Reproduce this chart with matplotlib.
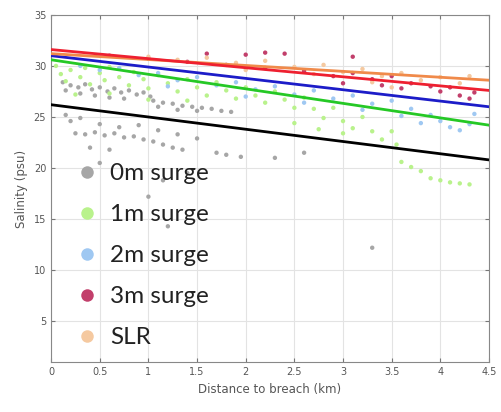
import numpy as np
import matplotlib.pyplot as plt
from matplotlib.lines import Line2D

# scatter clouds (distance km, salinity psu)
x0 = [0.12,0.2,0.28,0.35,0.42,0.5,0.58,0.65,0.72,0.8,0.88,0.95,1.02,0.15,0.3,0.45,0.6,0.75,
      1.05,1.15,1.25,1.35,1.45,1.55,1.65,1.75,1.85,1.1,1.3,1.5,
      0.15,0.2,0.3,0.25,0.35,0.45,0.55,0.65,0.75,0.85,0.95,1.05,1.15,1.25,1.35,0.5,0.7,0.9,1.1,1.3,1.5,1.7,1.8,1.95,0.4,0.6,
      1.0,1.15,1.2,2.3,2.6,3.3,0.5,1.4]
y0 = [28.4,28.1,27.9,28.2,27.7,27.9,27.5,27.8,27.4,27.6,27.2,27.4,27.0,27.6,27.3,27.1,26.9,26.8,
      26.6,26.4,26.3,26.1,26.0,25.9,25.8,25.6,25.5,26.0,25.7,25.6,
      25.2,24.6,24.9,23.4,23.3,23.5,23.2,23.4,23.0,23.1,22.8,22.6,22.3,22.0,21.8,24.3,24.0,24.2,23.7,23.3,22.9,21.5,21.3,21.1,22.0,21.8,
      17.2,18.8,14.3,21.0,21.5,12.2,20.5,19.5]

x1 = [0.05,0.1,0.15,0.2,0.3,0.35,0.4,0.5,0.55,0.6,0.7,0.8,0.85,0.95,1.0,1.1,1.2,1.3,1.4,1.5,1.6,1.7,1.8,1.9,
      2.0,2.1,2.2,2.3,2.4,2.5,2.6,2.7,2.8,2.9,3.0,3.1,3.2,3.3,3.4,3.5,3.55,3.6,3.7,3.8,3.9,4.0,4.1,4.2,4.3,
      0.25,0.6,1.0,1.4,2.5,3.0,2.75]
y1 = [30.0,29.2,28.5,29.6,28.9,29.8,28.2,29.3,28.6,29.9,28.9,28.1,29.4,28.7,27.8,29.1,28.3,27.5,28.7,27.9,27.1,28.4,27.6,26.8,
      27.9,27.1,26.4,27.5,26.7,25.9,26.9,25.8,24.9,25.9,24.6,23.9,25.0,23.6,22.8,23.6,22.3,20.6,20.1,19.7,19.0,18.8,18.6,18.5,18.4,
      27.2,27.3,26.7,26.6,24.4,23.4,23.8]

x2 = [0.3,0.5,0.7,0.9,1.1,1.3,1.5,1.7,1.9,2.1,2.3,2.5,2.7,2.9,3.1,3.3,3.5,3.7,3.9,4.0,4.1,4.2,4.3,3.6,3.8,
      2.0,2.6,3.2,1.2,4.35]
y2 = [30.0,29.6,29.8,29.1,29.3,28.6,28.9,28.1,28.4,27.7,28.0,27.2,27.6,26.8,27.1,26.3,26.6,25.8,25.2,24.6,24.0,23.7,24.3,25.1,24.4,
      27.0,26.4,25.7,28.0,25.3]

x3 = [0.6,1.0,1.4,1.8,2.2,2.6,2.9,3.1,3.3,3.5,3.7,3.9,4.0,4.1,4.2,4.3,4.35,3.6,2.0,2.2,2.4,3.1,1.6,3.0,3.4]
y3 = [31.0,30.7,30.4,30.1,29.8,29.5,29.0,29.3,28.7,29.0,28.3,28.0,27.5,27.9,27.1,26.8,27.4,27.8,31.1,31.3,31.2,30.9,31.2,28.3,28.1]

xs = [1.0,1.3,1.6,1.9,2.2,2.5,2.8,3.0,3.2,3.4,3.6,3.8,4.0,4.2,3.3,3.5,2.7,4.3,2.0]
ys = [30.9,30.6,30.8,30.3,30.5,29.9,30.1,29.4,29.7,29.0,29.3,28.6,28.9,28.3,28.4,27.9,29.2,29.0,29.6]

# fitted lines: salinity at 0 km and 4.5 km
line_x = [0, 4.5]
fit0 = [26.2, 20.8]
fit1 = [30.6, 24.2]
fit2 = [31.0, 26.0]
fit3 = [31.6, 27.6]
fits = [31.2, 28.6]

labels = ['0m surge', '1m surge', '2m surge', '3m surge', 'SLR']
pt_colors = ['#a6a6a6', '#b9f28c', '#9fc8f2', '#c23f6b', '#f5c9a0']
ln_colors = ['black', '#25c825', '#1c1cc8', '#ee2030', '#f08a4a']

fig = plt.figure(figsize=(5.01, 4.12), dpi=100)
ax = fig.add_axes([0.102, 0.121, 0.874, 0.843])

for xx, yy, c in zip([x0, x1, x2, x3, xs], [y0, y1, y2, y3, ys], pt_colors):
    ax.scatter(xx, yy, s=10, color=c, edgecolors='none', zorder=2)

for yy, c in zip([fit0, fit1, fit2, fits, fit3], [ln_colors[0], ln_colors[1], ln_colors[2], ln_colors[4], ln_colors[3]]):
    ax.plot(line_x, yy, color=c, lw=2, zorder=3)

ax.set_xlim(0, 4.5)
ax.set_ylim(1, 35)
ax.set_xticks(np.arange(0, 4.51, 0.5))
ax.set_xticklabels(['0', '0.5', '1', '1.5', '2', '2.5', '3', '3.5', '4', '4.5'])
ax.set_yticks([5, 10, 15, 20, 25, 30, 35])
ax.grid(True, color='#e3e3e3', lw=0.8, zorder=0)
ax.set_axisbelow(True)
ax.tick_params(direction='in', length=3, colors='#777777', labelsize=7, labelcolor='#555555',
               top=True, right=True)
for sp in ax.spines.values():
    sp.set_color('#888888')
ax.set_xlabel('Distance to breach (km)', fontsize=8.5, color='#555555')
ax.set_ylabel('Salinity (psu)', fontsize=8.5, color='#555555')

handles = [Line2D([], [], marker='o', ls='none', markersize=9, color=c, markeredgecolor='none')
           for c in pt_colors]
fig.legend(handles, labels, loc='upper left', bbox_to_anchor=(0.125, 0.633), frameon=False,
           prop={'family': 'Lato', 'size': 17.5}, labelcolor='#222222', labelspacing=0.82,
           handletextpad=0.45, borderpad=0, handlelength=1.0)

fig.savefig('out.png', dpi=100)
